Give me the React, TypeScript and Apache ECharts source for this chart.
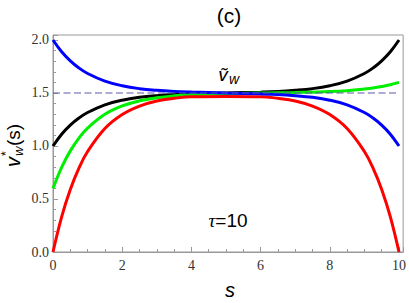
import React, { useEffect, useRef } from "react";
import * as echarts from "echarts";

const sValues = [0, 0.25, 0.5, 0.75, 1, 1.5, 2, 2.5, 3, 3.5, 4, 5, 6, 6.5, 7, 7.5, 8, 8.5, 9, 9.25, 9.5, 9.75, 10];
const blackV = [1.0, 1.111, 1.197, 1.264, 1.316, 1.388, 1.432, 1.459, 1.475, 1.485, 1.491, 1.5, 1.508, 1.514, 1.525, 1.541, 1.568, 1.612, 1.684, 1.736, 1.803, 1.889, 2.0];
const blueV = [2.0, 1.889, 1.803, 1.736, 1.684, 1.612, 1.568, 1.541, 1.525, 1.515, 1.509, 1.5, 1.492, 1.486, 1.475, 1.459, 1.432, 1.388, 1.316, 1.264, 1.197, 1.111, 1.0];
const greenV = [0.6, 0.799, 0.954, 1.075, 1.169, 1.299, 1.378, 1.426, 1.455, 1.473, 1.484, 1.495, 1.5, 1.502, 1.504, 1.508, 1.513, 1.522, 1.537, 1.547, 1.561, 1.578, 1.6];
const redV = [0.0, 0.332, 0.59, 0.791, 0.948, 1.165, 1.297, 1.377, 1.425, 1.45, 1.465, 1.468, 1.465, 1.45, 1.425, 1.377, 1.297, 1.165, 0.948, 0.791, 0.59, 0.332, 0.0];
const refS = [0, 10];
const refV = [1.5, 1.5];

const xTicks = [0, 2, 4, 6, 8, 10];
const yTicks = [0, 0.5, 1, 1.5, 2];

const pair = (xs: number[], ys: number[]) => xs.map((x, i) => [x, ys[i]]);

const SANS = "Liberation Sans";
const SERIF = "Liberation Serif";

const txt = (text: string, x: number, y: number, size: number, italic: boolean, align = "center", extra: any = {}) => ({
  type: "text",
  x,
  y,
  style: {
    text,
    fontSize: size,
    fontFamily: SANS,
    fontStyle: italic ? "italic" : "normal",
    fill: "#000",
    textAlign: align,
    textVerticalAlign: "middle",
    ...extra,
  },
});

export default function App() {
  const ref = useRef<HTMLDivElement>(null);
  useEffect(() => {
    if (!ref.current) return;
    const chart = echarts.init(ref.current, undefined, { renderer: "svg" });
    const frame = "#999";
    const tickFont = { fontFamily: SERIF, fontSize: 14, color: "#333" };
    const curve = (data: number[][], color: string) => ({
      type: "line",
      data,
      smooth: 0.4,
      showSymbol: false,
      symbol: "none",
      lineStyle: { color, width: 3 },
      z: 3,
    });
    chart.setOption({
      animation: false,
      grid: { left: 53, right: 4, top: 35, bottom: 51, show: true, borderColor: frame, borderWidth: 1, backgroundColor: "transparent" },
      xAxis: {
        type: "value",
        min: 0,
        max: 10.12,
        interval: 2,
        axisLine: { show: true, lineStyle: { color: frame } },
        axisTick: { show: true, inside: true, length: 5, lineStyle: { color: frame } },
        minorTick: { show: true, splitNumber: 4, length: 3, lineStyle: { color: frame } },
        splitLine: { show: false },
        axisLabel: {
          ...tickFont,
          margin: 6,
          formatter: (v: number) => (xTicks.indexOf(v) >= 0 ? String(v) : ""),
        },
      },
      yAxis: {
        type: "value",
        min: 0,
        max: 2.047,
        interval: 0.5,
        axisLine: { show: true, lineStyle: { color: frame } },
        axisTick: { show: true, inside: true, length: 5, lineStyle: { color: frame } },
        minorTick: { show: true, splitNumber: 5, length: 3, lineStyle: { color: frame } },
        splitLine: { show: false },
        axisLabel: {
          ...tickFont,
          margin: 4,
          formatter: (v: number) => (yTicks.indexOf(v) >= 0 ? v.toFixed(1) : ""),
        },
      },
      series: [
        curve(pair(sValues, blackV), "#000000"),
        curve(pair(sValues, greenV), "#00ee00"),
        curve(pair(sValues, redV), "#ff0000"),
        curve(pair(sValues, blueV), "#0000ff"),
        {
          type: "line",
          data: pair(refS, refV),
          showSymbol: false,
          symbol: "none",
          lineStyle: { color: "#5b5ba8", width: 1, type: [7, 3.5] },
          z: 4,
        },
      ],
      graphic: [
        txt("(c)", 229, 15, 21, false),
        txt("ṽ", 223, 74, 19, true),
        txt("w", 234, 79, 14, true),
        {
          type: "text",
          x: 228,
          y: 220,
          style: {
            text: "{i|τ}{n|=10}",
            fill: "#000",
            textAlign: "center",
            textVerticalAlign: "middle",
            rich: {
              i: { fontSize: 19, fontFamily: SERIF, fontStyle: "italic", fill: "#000" },
              n: { fontSize: 19, fontFamily: SANS, fill: "#000" },
            },
          },
        },
        txt("s", 230, 290, 20, true),
        {
          type: "group",
          x: 13,
          y: 143,
          rotation: Math.PI / 2,
          children: [
            txt("v", -24, 0, 20, true, "left"),
            txt("*", -13, -7, 12, false, "left"),
            txt("w", -13, 5, 13, true, "left"),
            txt("(s)", -3, 0, 19, false, "left"),
          ],
        },
      ],
    });
    return () => chart.dispose();
  }, []);
  return <div ref={ref} style={{ width: 409, height: 303, position: "absolute", left: 0, top: 0 }} />;
}
